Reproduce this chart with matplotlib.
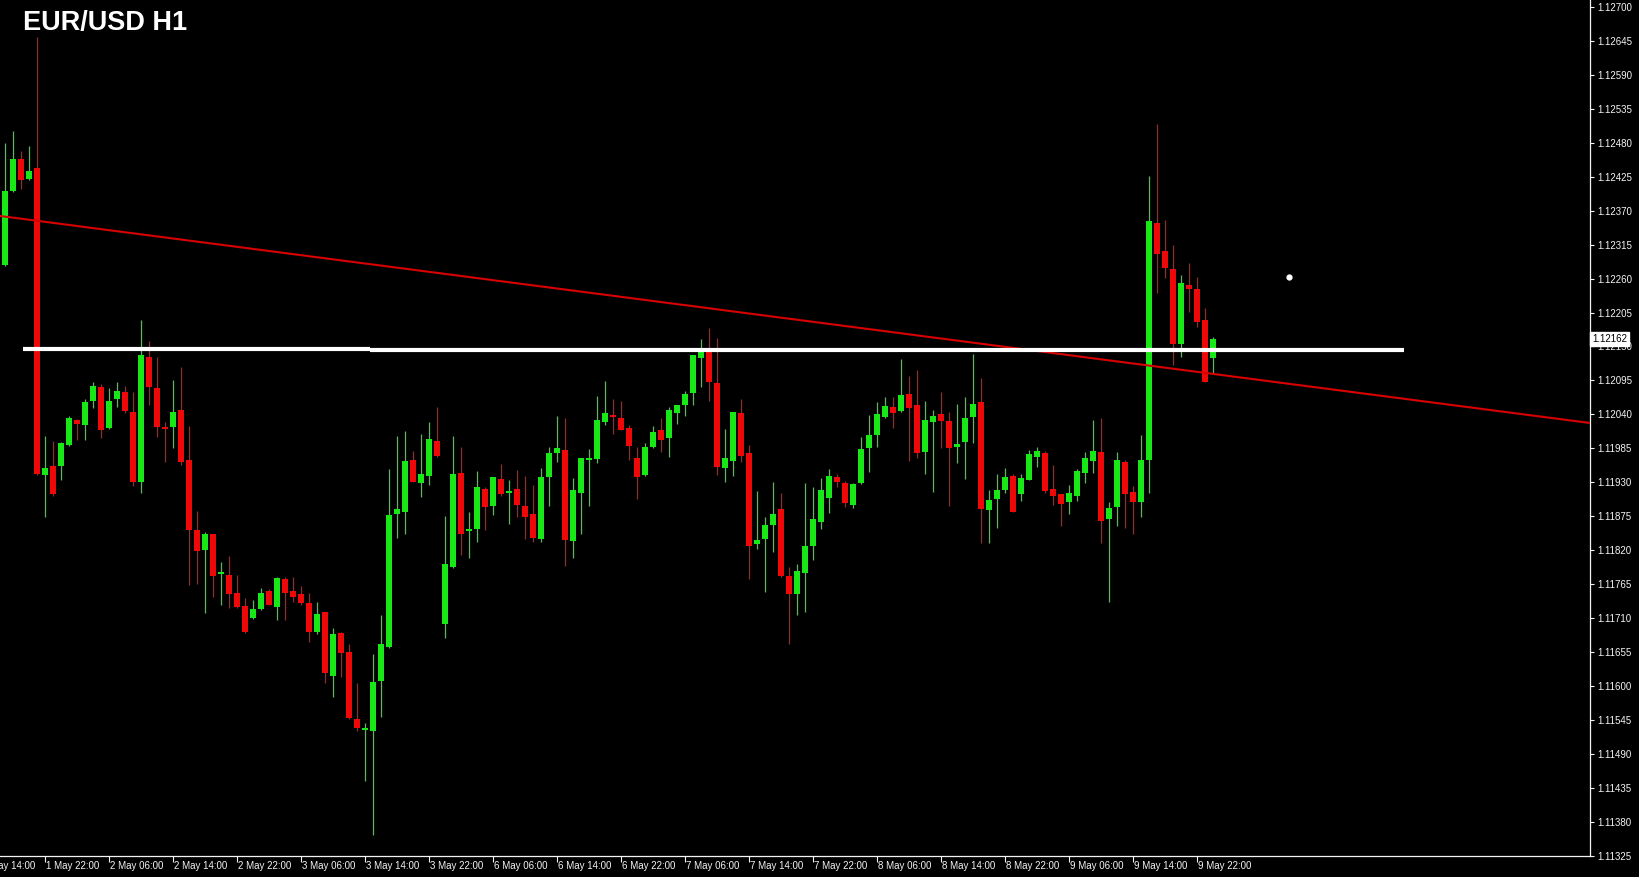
import matplotlib
matplotlib.use("Agg")
import matplotlib.pyplot as plt
import matplotlib.transforms as mtransforms
import numpy as np

# EUR/USD hourly candles, 1 May 17:00 .. 10 May 00:00 (bar index 0..151)
opens = [
    1.12282, 1.12402, 1.12453, 1.12421, 1.12439, 1.11941, 1.11956, 1.11956,
    1.11990, 1.12031, 1.12022, 1.12061, 1.12084, 1.12018, 1.12065, 1.12076,
    1.12044, 1.11930, 1.12133, 1.12082, 1.12019, 1.12019, 1.12047, 1.11966,
    1.11852, 1.11820, 1.11846, 1.11781, 1.11780, 1.11750, 1.11729, 1.11710,
    1.11724, 1.11754, 1.11728, 1.11773, 1.11754, 1.11749, 1.11734, 1.11687,
    1.11720, 1.11616, 1.11686, 1.11655, 1.11546, 1.11528, 1.11527, 1.11608,
    1.11663, 1.11878, 1.11882, 1.11966, 1.11929, 1.11940, 1.11997, 1.11700,
    1.11793, 1.11945, 1.11851, 1.11854, 1.11919, 1.11891, 1.11935, 1.11912,
    1.11919, 1.11891, 1.11878, 1.11838, 1.11938, 1.11977, 1.11982, 1.11835,
    1.11912, 1.11966, 1.11967, 1.12027, 1.12039, 1.12034, 1.12018, 1.11969,
    1.11941, 1.11987, 1.12014, 1.12001, 1.12042, 1.12055, 1.12074, 1.12131,
    1.12141, 1.12091, 1.11953, 1.11964, 1.12042, 1.11977, 1.11830, 1.11838,
    1.11861, 1.11886, 1.11778, 1.11749, 1.11783, 1.11827, 1.11865, 1.11904,
    1.11938, 1.11929, 1.11893, 1.11929, 1.11985, 1.12006, 1.12036, 1.12052,
    1.12045, 1.12073, 1.12055, 1.11979, 1.12027, 1.12040, 1.12029, 1.11987,
    1.11995, 1.12036, 1.12060, 1.11885, 1.11903, 1.11917, 1.11940, 1.11911,
    1.11934, 1.11971, 1.11977, 1.11919, 1.11911, 1.11898, 1.11908, 1.11945,
    1.11964, 1.11979, 1.11870, 1.11890, 1.11963, 1.11914, 1.11898, 1.11966,
    1.12350, 1.12304, 1.12275, 1.12154, 1.12249, 1.12243, 1.12193, 1.12131,
]
highs = [
    1.12479, 1.12499, 1.12466, 1.12474, 1.12651, 1.12005, 1.11997, 1.11995,
    1.12037, 1.12032, 1.12065, 1.12092, 1.12089, 1.12082, 1.12092, 1.12086,
    1.12076, 1.12193, 1.12159, 1.12133, 1.12027, 1.12095, 1.12117, 1.12021,
    1.11883, 1.11849, 1.11846, 1.11801, 1.11810, 1.11780, 1.11742, 1.11739,
    1.11758, 1.11757, 1.11776, 1.11776, 1.11776, 1.11762, 1.11750, 1.11736,
    1.11720, 1.11694, 1.11687, 1.11668, 1.11605, 1.11540, 1.11652, 1.11715,
    1.11951, 1.12005, 1.12013, 1.11980, 1.12008, 1.12027, 1.12052, 1.11875,
    1.12005, 1.11987, 1.11882, 1.11948, 1.11922, 1.11938, 1.11959, 1.11933,
    1.11950, 1.11940, 1.11925, 1.11953, 1.11987, 1.12037, 1.12034, 1.11937,
    1.11969, 1.11984, 1.12070, 1.12094, 1.12065, 1.12061, 1.12022, 1.11987,
    1.11993, 1.12021, 1.12034, 1.12052, 1.12055, 1.12078, 1.12136, 1.12162,
    1.12180, 1.12163, 1.12016, 1.12044, 1.12065, 1.11990, 1.11916, 1.11873,
    1.11930, 1.11912, 1.11793, 1.11797, 1.11929, 1.11922, 1.11937, 1.11951,
    1.11943, 1.11932, 1.11929, 1.12003, 1.12039, 1.12060, 1.12068, 1.12068,
    1.12129, 1.12102, 1.12112, 1.12061, 1.12047, 1.12076, 1.12044, 1.12057,
    1.12068, 1.12138, 1.12099, 1.11917, 1.11943, 1.11953, 1.11943, 1.11943,
    1.11982, 1.11987, 1.11980, 1.11958, 1.11911, 1.11925, 1.11951, 1.11979,
    1.12031, 1.12034, 1.11898, 1.11979, 1.11966, 1.11924, 1.12006, 1.12426,
    1.12510, 1.12355, 1.12314, 1.12266, 1.12285, 1.12263, 1.12212, 1.12165,
]
lows = [
    1.12280, 1.12400, 1.12405, 1.12419, 1.11941, 1.11873, 1.11907, 1.11933,
    1.11988, 1.11998, 1.11998, 1.12050, 1.12001, 1.12016, 1.12052, 1.12042,
    1.11924, 1.11912, 1.12055, 1.12003, 1.11963, 1.11985, 1.11958, 1.11763,
    1.11766, 1.11718, 1.11744, 1.11731, 1.11726, 1.11726, 1.11686, 1.11708,
    1.11723, 1.11731, 1.11707, 1.11707, 1.11736, 1.11731, 1.11671, 1.11684,
    1.11605, 1.11582, 1.11614, 1.11546, 1.11527, 1.11446, 1.11358, 1.11550,
    1.11661, 1.11839, 1.11847, 1.11930, 1.11906, 1.11925, 1.11971, 1.11677,
    1.11791, 1.11812, 1.11807, 1.11833, 1.11852, 1.11877, 1.11908, 1.11862,
    1.11873, 1.11838, 1.11833, 1.11833, 1.11891, 1.11963, 1.11794, 1.11807,
    1.11846, 1.11891, 1.11961, 1.12022, 1.12008, 1.12014, 1.11966, 1.11903,
    1.11940, 1.11985, 1.11979, 1.11971, 1.12024, 1.12037, 1.12055, 1.12084,
    1.12061, 1.11941, 1.11930, 1.11940, 1.11963, 1.11773, 1.11822, 1.11752,
    1.11817, 1.11776, 1.11668, 1.11715, 1.11720, 1.11804, 1.11854, 1.11880,
    1.11922, 1.11890, 1.11888, 1.11927, 1.11946, 1.11987, 1.12034, 1.12018,
    1.12044, 1.11964, 1.11969, 1.11943, 1.11914, 1.11985, 1.11891, 1.11961,
    1.11935, 1.11993, 1.11831, 1.11831, 1.11856, 1.11912, 1.11882, 1.11900,
    1.11934, 1.11955, 1.11912, 1.11893, 1.11859, 1.11878, 1.11900, 1.11929,
    1.11945, 1.11831, 1.11736, 1.11859, 1.11856, 1.11846, 1.11873, 1.11912,
    1.12236, 1.12261, 1.12120, 1.12133, 1.12206, 1.12182, 1.12092, 1.12105,
]
closes = [
    1.12402, 1.12453, 1.12419, 1.12434, 1.11943, 1.11953, 1.11911, 1.11993,
    1.12034, 1.12024, 1.12060, 1.12086, 1.12014, 1.12061, 1.12078, 1.12045,
    1.11930, 1.12136, 1.12084, 1.12019, 1.12016, 1.12044, 1.11963, 1.11852,
    1.11818, 1.11847, 1.11778, 1.11784, 1.11749, 1.11728, 1.11687, 1.11724,
    1.11750, 1.11731, 1.11775, 1.11750, 1.11744, 1.11734, 1.11687, 1.11716,
    1.11621, 1.11684, 1.11653, 1.11548, 1.11532, 1.11532, 1.11606, 1.11668,
    1.11877, 1.11886, 1.11964, 1.11930, 1.11943, 1.12000, 1.11972, 1.11797,
    1.11943, 1.11847, 1.11854, 1.11922, 1.11890, 1.11938, 1.11911, 1.11916,
    1.11893, 1.11873, 1.11839, 1.11938, 1.11977, 1.11985, 1.11836, 1.11917,
    1.11969, 1.11969, 1.12031, 1.12042, 1.12036, 1.12014, 1.11989, 1.11938,
    1.11987, 1.12011, 1.11998, 1.12047, 1.12055, 1.12073, 1.12136, 1.12141,
    1.12092, 1.11955, 1.11969, 1.12044, 1.11972, 1.11827, 1.11836, 1.11861,
    1.11878, 1.11778, 1.11749, 1.11786, 1.11827, 1.11870, 1.11917, 1.11940,
    1.11930, 1.11896, 1.11927, 1.11984, 1.12006, 1.12040, 1.12053, 1.12042,
    1.12071, 1.12050, 1.11977, 1.12031, 1.12037, 1.12029, 1.11985, 1.11992,
    1.12034, 1.12057, 1.11886, 1.11901, 1.11917, 1.11938, 1.11882, 1.11937,
    1.11976, 1.11980, 1.11916, 1.11908, 1.11895, 1.11912, 1.11948, 1.11969,
    1.11980, 1.11867, 1.11888, 1.11966, 1.11911, 1.11898, 1.11966, 1.12353,
    1.12300, 1.12277, 1.12154, 1.12253, 1.12243, 1.12190, 1.12092, 1.12162,
]

# time scale labels, one every 8 bars starting 3 bars before the first bar
time_labels = [
    "1 May 14:00", "1 May 22:00", "2 May 06:00", "2 May 14:00", "2 May 22:00",
    "3 May 06:00", "3 May 14:00", "3 May 22:00", "6 May 06:00", "6 May 14:00",
    "6 May 22:00", "7 May 06:00", "7 May 14:00", "7 May 22:00", "8 May 06:00",
    "8 May 14:00", "8 May 22:00", "9 May 06:00", "9 May 14:00", "9 May 22:00",
]
first_label_bar = -3
price_tick_start = 1.11325
price_tick_step = 0.00055
last_price = 1.12162

# drawn objects
trend_x = [-0.625, 198.125]
trend_y = [1.123614, 1.120260]
level_x = [(2.25, 45.6), (45.6, 131.75), (131.75, 174.9)]
level_y = [1.121467, 1.121451, 1.121435]
dot_x, dot_y = 160.5, 1.12263

GREEN = "#18e818"
RED = "#ee0808"
FG = "#f4f4f4"

W, H = 1639, 877
fig = plt.figure(figsize=(W / 100, H / 100), dpi=100, facecolor="black")
ax = fig.add_axes([0, (H - 856) / H, 1590 / W, 856 / H])
ax.set_facecolor("black")

idx = np.arange(len(opens))
o = np.array(opens)
h = np.array(highs)
l = np.array(lows)
c = np.array(closes)
cols = np.where(c >= o, GREEN, RED)

#  Wicks, then bodies on top.
ax.vlines(idx, l, h, colors=cols, linewidth=0.9, zorder=3)
body_lo = np.minimum(o, c)
body_h = np.maximum(np.abs(c - o), 0.000018)
ax.bar(idx, body_h, bottom=body_lo, width=0.65, color=cols, linewidth=0, zorder=4)

#  Trend line and the hand drawn level.
ax.plot(trend_x, trend_y, color="#d80000", linewidth=1.5, zorder=5)
for (x0, x1), yv in zip(level_x, level_y):
    ax.plot([x0, x1], [yv, yv], color="white", linewidth=3.0,
            solid_capstyle="butt", zorder=6)
ax.plot(dot_x, dot_y, "o", color="white", markersize=3.5, zorder=6)

ax.set_xlim(-0.625, 198.125)
ax.set_ylim(1.1132458, 1.127113)

#  Price scale on the right.
yt = price_tick_start + price_tick_step * np.arange(26)
ax.yaxis.tick_right()
ax.set_yticks(yt)
ax.set_yticklabels(["%.5f" % v for v in yt])
ax.tick_params(axis="y", colors=FG, length=3, width=0.8, pad=2.5,
               labelsize=7, direction="out")
for t in ax.get_yticklabels():
    t.set_fontfamily("Liberation Sans")

#  Time scale at the bottom.
xt = [first_label_bar + 8 * k for k in range(len(time_labels))]
ax.set_xticks([v for v in xt if v >= -0.625])
ax.set_xticklabels([])
ax.tick_params(axis="x", colors=FG, length=4, width=0.8, direction="out")
offs = mtransforms.offset_copy(ax.get_xaxis_transform(), fig=fig,
                               x=1, y=-7, units="points")
for xv, lab in zip(xt, time_labels):
    ax.text(xv, 0, lab, transform=offs, ha="left", va="center", color=FG,
            fontsize=7, family="Liberation Sans", clip_on=False)

for side in ["left", "top"]:
    ax.spines[side].set_visible(False)
for side in ["right", "bottom"]:
    ax.spines[side].set_color(FG)
    ax.spines[side].set_linewidth(0.9)

#  Current price marker.
ptr = mtransforms.blended_transform_factory(ax.transAxes, ax.transData)
ax.text(1.0015, last_price, "%.5f" % last_price, transform=ptr, ha="left",
        va="center", color="black", fontsize=7, family="Liberation Sans",
        bbox=dict(boxstyle="square,pad=0.2", fc="white", ec="white"),
        clip_on=False, zorder=10)

fig.text(23 / W, 1 - 10 / H, "EUR/USD H1", ha="left", va="top", color="white",
         fontsize=19.5, fontweight="bold", family="Liberation Sans")

fig.savefig("out.png", dpi=100, facecolor="black")
